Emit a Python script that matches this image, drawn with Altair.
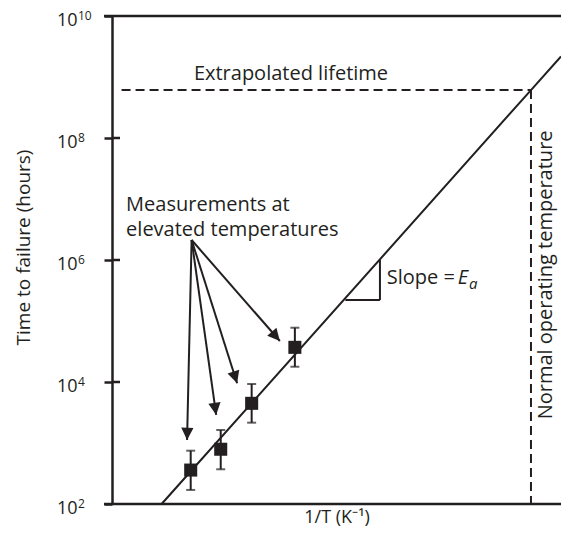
import math
import altair as alt
import pandas as pd

# ---- data ----
inv_T = [17.3, 23.9, 30.7, 40.2]          # 1/T, arbitrary units
ttf = [360, 790, 4470, 37000]             # time to failure (hours)
err_hi = [748, 1633, 9270, 77600]
err_lo = [170, 371, 2153, 17800]

fit_x = [10.9, 92.1, 98.7]
fit_y = [100, 6.1e8, 2.17e9]

op_x = 92.1          # normal operating temperature (1/T)
life = 6.1e8         # extrapolated lifetime
dash_start = 2.1

slope_x = [51.3, 58.9]
slope_y = [2.21e5, 1.0e6]

arrow_from = (17.5, 2.13e6)
arrow_to_x = [16.5, 22.9, 27.5, 36.9]
arrow_to_y = [1120, 2880, 9530, 47000]

y_ticks = [1e2, 1e4, 1e6, 1e8, 1e10]
y_exps = ["2", "4", "6", "8", "10"]

X_MAX = 98.7
W, H = 449, 488
INK = "#231f20"
FONT = "Open Sans"
FS = 20

xs = alt.Scale(domain=[0, X_MAX], nice=False, zero=False)
ys = alt.Scale(type="log", domain=[1e2, 1e10], nice=False)

pts = pd.DataFrame({"x": inv_T, "y": ttf, "hi": err_hi, "lo": err_lo})
fit = pd.DataFrame({"x": fit_x, "y": fit_y})

base_x = alt.X("x:Q", scale=xs, axis=alt.Axis(
    title="1/T (K⁻¹)", domain=False, ticks=False, labels=False, grid=False,
    titleFont=FONT, titleFontSize=18, titleFontWeight="normal", titleColor=INK,
    titlePadding=4))
base_y = alt.Y("y:Q", scale=ys, axis=alt.Axis(
    title="Time to failure (hours)", values=y_ticks, labels=False,
    domain=True, domainColor=INK, domainWidth=2.5, ticks=True, tickSize=8,
    tickWidth=2.5, tickColor=INK, grid=False, titleFont=FONT, titleFontSize=19,
    titleFontWeight="normal", titleColor=INK, titleX=-89, titleY=231,
    titleAlign="center", titleBaseline="middle"))

line = alt.Chart(fit).mark_line(color=INK, strokeWidth=2).encode(x=base_x, y=base_y)

# frame lines at top and bottom
frame = alt.Chart(pd.DataFrame({"y": [y_ticks[0], y_ticks[-1]]})).mark_rule(
    color=INK, strokeWidth=2.5).encode(y=alt.Y("y:Q", scale=ys), x=alt.value(-8), x2=alt.value(W))
inner_ticks = alt.Chart(pd.DataFrame({"y": y_ticks[1:-1]})).mark_rule(
    color=INK, strokeWidth=2.5).encode(y=alt.Y("y:Q", scale=ys), x=alt.value(0), x2=alt.value(8))

# tick labels: "10" with a superscript exponent
tick_df = pd.DataFrame({"y": y_ticks, "base": ["10"] * len(y_ticks), "e": y_exps})
tick_base = alt.Chart(tick_df).mark_text(
    font=FONT, fontSize=18, color=INK, align="left", baseline="middle", dy=5).encode(
    y=alt.Y("y:Q", scale=ys), x=alt.value(-55), text="base:N")
tick_exp = alt.Chart(tick_df).mark_text(
    font=FONT, fontSize=12, color=INK, align="left", baseline="middle", dy=0).encode(
    y=alt.Y("y:Q", scale=ys), x=alt.value(-34), text="e:N")

# error bars
ebar = alt.Chart(pts).mark_rule(color=INK, strokeWidth=2).encode(
    x=alt.X("x:Q", scale=xs), y=alt.Y("lo:Q", scale=ys), y2="hi:Q")
cap_hi = alt.Chart(pts).mark_tick(color=INK, thickness=2, size=9, orient="horizontal").encode(
    x=alt.X("x:Q", scale=xs), y=alt.Y("hi:Q", scale=ys))
cap_lo = alt.Chart(pts).mark_tick(color=INK, thickness=2, size=9, orient="horizontal").encode(
    x=alt.X("x:Q", scale=xs), y=alt.Y("lo:Q", scale=ys))
squares = alt.Chart(pts).mark_square(color=INK, opacity=1, size=170).encode(
    x=alt.X("x:Q", scale=xs), y=alt.Y("y:Q", scale=ys))

# dashed extrapolation lines
hdash = alt.Chart(pd.DataFrame({"x": [dash_start], "x2": [op_x], "y": [life]})).mark_rule(
    color=INK, strokeWidth=2, strokeDash=[9, 5]).encode(
    x=alt.X("x:Q", scale=xs), x2="x2:Q", y=alt.Y("y:Q", scale=ys))
vdash = alt.Chart(pd.DataFrame({"x": [op_x], "y": [life], "y2": [y_ticks[0]]})).mark_rule(
    color=INK, strokeWidth=2, strokeDash=[9, 5]).encode(
    x=alt.X("x:Q", scale=xs), y=alt.Y("y:Q", scale=ys), y2="y2:Q")

# slope triangle
tri = pd.DataFrame({"x": [slope_x[0], slope_x[1]], "x2": [slope_x[1], slope_x[1]],
                    "y": [slope_y[0], slope_y[0]], "y2": [slope_y[0], slope_y[1]]})
slope_tri = alt.Chart(tri).mark_rule(color=INK, strokeWidth=2).encode(
    x=alt.X("x:Q", scale=xs), x2="x2:Q", y=alt.Y("y:Q", scale=ys), y2="y2:Q")

# arrows (head angle follows the arrow direction on screen)
def px(u):
    return u / X_MAX * W

def py(v):
    return H * (10 - math.log10(v)) / 8

arr_rows = []
for tx, ty in zip(arrow_to_x, arrow_to_y):
    dx = px(tx) - px(arrow_from[0])
    dy = py(ty) - py(arrow_from[1])
    ang = math.degrees(math.atan2(-dx, dy)) % 360
    arr_rows.append({"x": arrow_from[0], "y": arrow_from[1], "x2": tx, "y2": ty, "ang": ang})
arr = pd.DataFrame(arr_rows)
arrow_lines = alt.Chart(arr).mark_rule(color=INK, strokeWidth=2).encode(
    x=alt.X("x:Q", scale=xs), x2="x2:Q", y=alt.Y("y:Q", scale=ys), y2="y2:Q")
arrow_heads = alt.Chart(arr).mark_point(
    shape="M0,0L-0.5,-1L0.5,-1Z", filled=True, color=INK, opacity=1, size=600, strokeWidth=0).encode(
    x=alt.X("x2:Q", scale=xs), y=alt.Y("y2:Q", scale=ys), angle=alt.Angle("ang:Q", scale=None))

# texts
def txt(df, **kw):
    opts = dict(font=FONT, fontSize=FS, color=INK, align="left", baseline="middle")
    opts.update(kw)
    return alt.Chart(df).mark_text(**opts).encode(
        x=alt.X("x:Q", scale=xs), y=alt.Y("y:Q", scale=ys), text="t:N")

t_extra = txt(pd.DataFrame({"x": [18.0], "y": [1.12e9], "t": ["Extrapolated lifetime"]}))
t_meas = txt(pd.DataFrame({"x": [3.1, 3.1], "y": [7.9e6, 3.1e6],
                           "t": ["Measurements at", "elevated temperatures"]}))
t_slope = txt(pd.DataFrame({"x": [60.4], "y": [5.07e5], "t": ["Slope ="]}))
t_E = txt(pd.DataFrame({"x": [76.0], "y": [5.07e5], "t": ["E"]}), fontStyle="italic")
t_a = txt(pd.DataFrame({"x": [78.5], "y": [5.07e5], "t": ["a"]}), fontStyle="italic",
          fontSize=15, dy=6)
t_norm = txt(pd.DataFrame({"x": [95.5], "y": [5.7e5], "t": ["Normal operating temperature"]}),
             align="center", angle=270)

chart = alt.layer(
    frame, inner_ticks, tick_base, tick_exp, line, hdash, vdash, slope_tri, ebar, cap_hi,
    cap_lo, squares, arrow_lines, arrow_heads, t_extra, t_meas, t_slope, t_E, t_a, t_norm
).properties(
    width=W, height=H,
    padding={"left": 104, "top": 8, "right": 0, "bottom": 30},
    autosize=alt.AutoSizeParams(type="none"),
).configure_view(stroke=None)

chart.save("out.html", embed_options={"renderer": "svg", "actions": False})
